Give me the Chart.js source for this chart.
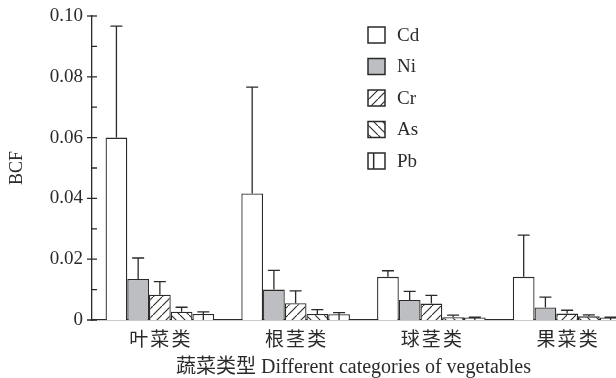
<!DOCTYPE html>
<html><head><meta charset="utf-8">
<style>
html,body{margin:0;padding:0;overflow:hidden;background:#fff;width:616px;height:378px}
#wrap{position:absolute;left:0;top:0;width:640px;height:378px}
</style>
<script src="https://cdn.jsdelivr.net/npm/chart.js@4/dist/chart.umd.min.js"></script>
</head><body><div id="wrap"><canvas id="c" width="640" height="378"></canvas></div>
<script>
// ---- data ----
const categories = ['叶菜类', '根茎类', '球茎类', '果菜类'];
const seriesNames = ['Cd', 'Ni', 'Cr', 'As', 'Pb'];
const cdValues = [0.0600, 0.0416, 0.0142, 0.0142];
const cdErrors = [0.0367, 0.0350, 0.0020, 0.0137];
const niValues = [0.0135, 0.0100, 0.0066, 0.0041];
const niErrors = [0.0069, 0.0063, 0.0028, 0.0034];
const crValues = [0.0083, 0.0055, 0.0054, 0.0021];
const crErrors = [0.0043, 0.0041, 0.0027, 0.0011];
const asValues = [0.0027, 0.0020, 0.0009, 0.0012];
const asErrors = [0.0015, 0.0014, 0.0007, 0.0005];
const pbValues = [0.0020, 0.0019, 0.0008, 0.0008];
const pbErrors = [0.0007, 0.0005, 0.0001, 0.0001];
const yTickLabels = ['0', '0.02', '0.04', '0.06', '0.08', '0.10'];
const yAxisTitle = 'BCF';
const xAxisTitle = '蔬菜类型 Different categories of vegetables';

// ---- styles ----
const INK = '#2a2a2a';
const SERIF = "'Liberation Serif', 'Noto Sans CJK SC', serif";
const CJK = "'Noto Sans CJK SC', sans-serif";

function hatch(dir) {
  const s = 9;
  const c = document.createElement('canvas');
  c.width = s; c.height = s;
  const g = c.getContext('2d');
  g.fillStyle = '#fff'; g.fillRect(0, 0, s, s);
  g.strokeStyle = INK; g.lineWidth = 1.1;
  g.beginPath();
  if (dir === 'fwd') {
    g.moveTo(-1, s + 1); g.lineTo(s + 1, -1);
    g.moveTo(-2, 1); g.lineTo(1, -2);
    g.moveTo(s - 1, s + 2); g.lineTo(s + 2, s - 1);
  } else {
    g.moveTo(-1, -1); g.lineTo(s + 1, s + 1);
    g.moveTo(-2, s - 1); g.lineTo(1, s + 2);
    g.moveTo(s - 1, -2); g.lineTo(s + 2, 1);
  }
  g.stroke();
  return g.createPattern(c, 'repeat');
}
const ctx0 = document.getElementById('c').getContext('2d');
const fills = ['#ffffff', '#bdbec2', hatch('fwd'), hatch('back'), '#ffffff'];
const valuesList = [cdValues, niValues, crValues, asValues, pbValues];
const errorsList = [cdErrors, niErrors, crErrors, asErrors, pbErrors];

class SpacedCategoryScale extends Chart.CategoryScale {
  drawLabels(area) {
    const ctx = this.ctx;
    ctx.save();
    try { ctx.letterSpacing = '2px'; } catch (e) {}
    ctx.translate(1, 0);
    super.drawLabels(area);
    ctx.restore();
  }
  drawTitle() {
    const ctx = this.ctx;
    ctx.save();
    ctx.translate(-10, 2);
    super.drawTitle();
    ctx.restore();
  }
}
SpacedCategoryScale.id = 'spacedCategory';
SpacedCategoryScale.defaults = Chart.CategoryScale.defaults;
Chart.register(SpacedCategoryScale);

const extrasPlugin = {
  id: 'extras',
  afterDatasetsDraw(chart) {
    const ctx = chart.ctx;
    const y = chart.scales.y;
    ctx.save();
    ctx.strokeStyle = INK;
    ctx.lineWidth = 1.3;
    chart.data.datasets.forEach((ds, i) => {
      const meta = chart.getDatasetMeta(i);
      meta.data.forEach((bar, j) => {
        if (ds.label === 'Pb') {
          ctx.beginPath();
          ctx.moveTo(bar.x, bar.y); ctx.lineTo(bar.x, bar.base);
          ctx.stroke();
        }
        const top = y.getPixelForValue(ds.data[j] + ds.errorBars[j]);
        ctx.beginPath();
        ctx.moveTo(bar.x, bar.y); ctx.lineTo(bar.x, top);
        ctx.moveTo(bar.x - 6, top); ctx.lineTo(bar.x + 6, top);
        ctx.stroke();
      });
    });
    const x0 = chart.chartArea.left;
    y.ticks.forEach((t, k) => {
      const p = y.getPixelForValue(t.value);
      ctx.beginPath();
      ctx.moveTo(x0 - 5, p); ctx.lineTo(x0 + 5, p);
      if (k < y.ticks.length - 1) {
        const m = y.getPixelForValue(t.value + 0.01);
        ctx.moveTo(x0, m); ctx.lineTo(x0 + 5, m);
      }
      ctx.stroke();
    });
    ctx.restore();
  },
  afterDraw(chart) {
    const ctx = chart.ctx;
    ctx.save();
    const bx = 368, bw = 17, bh = 16, y0 = 35, dy = 31.5;
    chart.data.datasets.forEach((ds, i) => {
      const cy = y0 + i * dy;
      ctx.fillStyle = ds.backgroundColor;
      ctx.fillRect(bx, cy - bh / 2, bw, bh);
      ctx.strokeStyle = INK; ctx.lineWidth = 1.5;
      ctx.strokeRect(bx, cy - bh / 2, bw, bh);
      if (ds.label === 'Pb') {
        ctx.beginPath();
        ctx.moveTo(bx + bw / 3, cy - bh / 2); ctx.lineTo(bx + bw / 3, cy + bh / 2);
        ctx.stroke();
      }
      ctx.fillStyle = INK;
      ctx.font = '19px ' + SERIF;
      ctx.textBaseline = 'middle';
      ctx.textAlign = 'left';
      ctx.fillText(ds.label, 397, cy + 1);
    });
    ctx.restore();
  }
};

new Chart(ctx0, {
  type: 'bar',
  data: {
    labels: categories,
    datasets: seriesNames.map((name, i) => ({
      label: name,
      data: valuesList[i],
      errorBars: errorsList[i],
      backgroundColor: fills[i],
      borderColor: INK,
      borderWidth: 1.3,
      categoryPercentage: 0.8,
      barPercentage: 1.0
    }))
  },
  options: {
    responsive: false,
    animation: false,
    devicePixelRatio: 1,
    layout: { padding: { top: 16, right: 5, left: 0, bottom: 0 } },
    plugins: { legend: { display: false }, tooltip: { enabled: false } },
    scales: {
      x: {
        type: 'spacedCategory',
        grid: { display: false, drawTicks: false },
        border: { display: true, color: INK, width: 1.3 },
        ticks: { color: INK, font: { family: CJK, size: 19 }, padding: 7, maxRotation: 0, autoSkip: false },
        title: { display: true, text: xAxisTitle, color: INK, font: { family: SERIF, size: 20 }, padding: { top: 0, bottom: 0 } },
        afterFit: s => { s.height = 58; s.paddingLeft = 0; s.paddingRight = 0; }
      },
      y: {
        min: 0, max: 0.1,
        grid: { display: false, drawTicks: false },
        border: { display: true, color: INK, width: 1.3 },
        ticks: { stepSize: 0.02, color: INK, font: { family: SERIF, size: 19 }, padding: 9,
                 callback: (v, i) => yTickLabels[i] },
        title: { display: true, text: yAxisTitle, color: INK, font: { family: SERIF, size: 18 }, padding: { top: 6, bottom: 0 } },
        afterFit: s => { s.width = 92; s.paddingTop = 0; s.paddingBottom = 0; }
      }
    }
  },
  plugins: [extrasPlugin]
});
</script>
</body></html>
